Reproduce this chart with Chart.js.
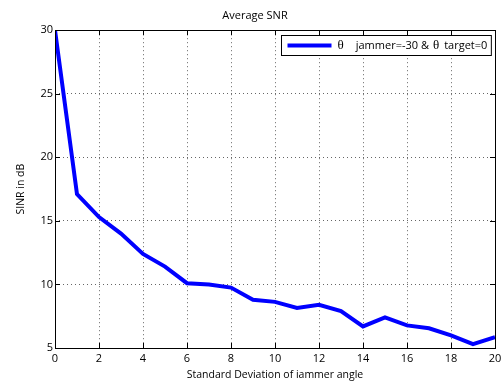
<!DOCTYPE html>
<html lang="en">
<head>
    <meta charset="UTF-8">
    <title>Average SNR</title>
    <style>
        body {
            margin: 0;
            padding: 0;
            background: #fff;
        }
        canvas {
            display: block;
        }
    </style>
    <script src="https://cdn.jsdelivr.net/npm/chart.js"></script>
</head>
<body>
    <canvas id="snrChart" width="502" height="381"></canvas>

    <script>
        // values
        const stdDev = [0, 1, 2, 3, 4, 5, 6, 7, 8, 9, 10, 11, 12, 13, 14, 15, 16, 17, 18, 19, 20];
        const sinr = [30, 17.1, 15.3, 14.0, 12.4, 11.4, 10.1, 10.0, 9.75, 8.8, 8.63, 8.15, 8.4, 7.9, 6.7, 7.4, 6.78, 6.55, 6.0, 5.3, 5.85];
        const xTicks = [0, 2, 4, 6, 8, 10, 12, 14, 16, 18, 20];
        const yTicks = [5, 10, 15, 20, 25, 30];
        const seriesLabel = '\u03b8  jammer=-30 & \u03b8 target=0';

        const FONT = "'Open Sans', 'DejaVu Sans', sans-serif";
        const SERIF = "'Liberation Serif', 'DejaVu Serif', serif";

        // matlab style box, inward ticks and the legend box
        const matlabFrame = {
            id: 'matlabFrame',
            afterDraw(chart) {
                const ctx = chart.ctx;
                const a = chart.chartArea;
                const xs = chart.scales.x;
                const ys = chart.scales.y;
                ctx.save();
                ctx.strokeStyle = '#000';
                ctx.lineWidth = 1;
                ctx.beginPath();
                xTicks.forEach(v => {
                    const px = Math.round(xs.getPixelForValue(v)) + 0.5;
                    ctx.moveTo(px, a.bottom);
                    ctx.lineTo(px, a.bottom - 5);
                    ctx.moveTo(px, a.top);
                    ctx.lineTo(px, a.top + 5);
                });
                yTicks.forEach(v => {
                    const py = Math.round(ys.getPixelForValue(v)) + 0.5;
                    ctx.moveTo(a.left, py);
                    ctx.lineTo(a.left + 5, py);
                    ctx.moveTo(a.right, py);
                    ctx.lineTo(a.right - 5, py);
                });
                ctx.stroke();
                ctx.strokeRect(Math.round(a.left) + 0.5, Math.round(a.top) + 0.5,
                    Math.round(a.right - a.left), Math.round(a.bottom - a.top));

                // legend: theta symbols in a serif face like the original
                const parts = [
                    { t: '\u03b8', f: '13px ' + SERIF, gap: 12 },
                    { t: 'jammer=-30 &', f: '11px ' + FONT, gap: 4 },
                    { t: '\u03b8', f: '13px ' + SERIF, gap: 5 },
                    { t: 'target=0', f: '11px ' + FONT, gap: 0 }
                ];
                let tw = 0;
                parts.forEach(p => {
                    ctx.font = p.f;
                    p.w = ctx.measureText(p.t).width;
                    tw += p.w + p.gap;
                });
                const h = 20;
                const w = 56 + tw + 4;
                const lx = Math.round(a.right - 4 - w) + 0.5;
                const ly = Math.round(a.top + 5) + 0.5;
                ctx.fillStyle = '#fff';
                ctx.fillRect(lx, ly, w, h);
                ctx.strokeStyle = '#000';
                ctx.strokeRect(lx, ly, w, h);
                ctx.strokeStyle = '#0000ff';
                ctx.lineWidth = 4;
                ctx.beginPath();
                ctx.moveTo(lx + 6, ly + h / 2);
                ctx.lineTo(lx + 50, ly + h / 2);
                ctx.stroke();
                ctx.fillStyle = '#000';
                ctx.textBaseline = 'middle';
                let tx = lx + 56;
                parts.forEach(p => {
                    ctx.font = p.f;
                    ctx.fillText(p.t, tx, ly + h / 2 + 0.5);
                    tx += p.w + p.gap;
                });
                ctx.restore();
            }
        };

        function renderChart() {
            const ctx = document.getElementById('snrChart').getContext('2d');
            new Chart(ctx, {
                type: 'line',
                data: {
                    datasets: [{
                        label: seriesLabel,
                        data: stdDev.map((x, i) => ({ x: x, y: sinr[i] })),
                        borderColor: '#0000ff',
                        borderWidth: 4,
                        pointRadius: 0,
                        tension: 0,
                        fill: false
                    }]
                },
                options: {
                    responsive: false,
                    animation: false,
                    layout: {
                        padding: { left: 15, right: 7, top: 0, bottom: 0 }
                    },
                    plugins: {
                        legend: { display: false },
                        tooltip: { enabled: false },
                        title: {
                            display: true,
                            text: 'Average SNR',
                            color: '#000',
                            font: { family: FONT, size: 11, weight: 'normal' },
                            padding: { top: 9, bottom: 8 }
                        }
                    },
                    scales: {
                        x: {
                            type: 'linear',
                            min: 0,
                            max: 20,
                            afterBuildTicks(scale) {
                                scale.ticks = xTicks.map(v => ({ value: v }));
                            },
                            afterFit(scale) {
                                scale.height = 33;
                                scale.paddingLeft = 0;
                                scale.paddingRight = 0;
                            },
                            ticks: {
                                color: '#000',
                                font: { family: FONT, size: 11 },
                                padding: 4,
                                maxRotation: 0
                            },
                            grid: {
                                color: '#666',
                                drawTicks: false
                            },
                            border: { display: false, dash: [1, 3] },
                            title: {
                                display: true,
                                text: 'Standard Deviation of iammer angle',
                                color: '#000',
                                font: { family: FONT, size: 10.5 },
                                padding: { top: 0, bottom: 0 }
                            }
                        },
                        y: {
                            min: 5,
                            max: 30,
                            afterBuildTicks(scale) {
                                scale.ticks = yTicks.map(v => ({ value: v }));
                            },
                            afterFit(scale) {
                                scale.width = 40;
                                scale.paddingTop = 0;
                                scale.paddingBottom = 0;
                            },
                            ticks: {
                                color: '#000',
                                font: { family: FONT, size: 11 },
                                padding: 2
                            },
                            grid: {
                                color: '#666',
                                drawTicks: false
                            },
                            border: { display: false, dash: [1, 3] },
                            title: {
                                display: true,
                                text: 'SINR in dB',
                                color: '#000',
                                font: { family: FONT, size: 10.5 },
                                padding: { top: 0, bottom: 0 }
                            }
                        }
                    }
                },
                plugins: [matlabFrame]
            });
        }

        document.addEventListener('DOMContentLoaded', renderChart);
    </script>
</body>
</html>
